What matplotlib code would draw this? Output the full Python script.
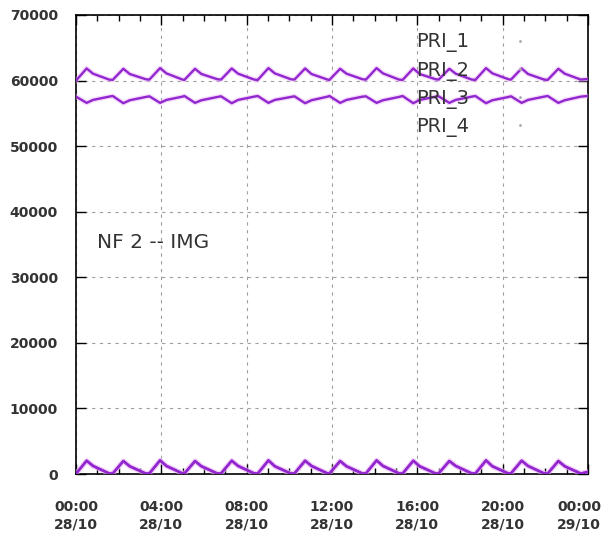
import matplotlib
matplotlib.use('Agg')
import matplotlib.pyplot as plt
from matplotlib.lines import Line2D
from matplotlib.ticker import MultipleLocator
import matplotlib.transforms as mtransforms

# hours since 00:00 28/10 (vertices)
hours = [0.00, 0.50, 0.80, 1.55,
         1.72, 2.22, 2.52, 3.27,
         3.44, 3.94, 4.24, 4.99,
         5.08, 5.58, 5.88, 6.63,
         6.80, 7.30, 7.60, 8.35,
         8.52, 9.02, 9.32, 10.07,
         10.24, 10.74, 11.04, 11.79,
         11.88, 12.38, 12.68, 13.43,
         13.59, 14.09, 14.39, 15.14,
         15.31, 15.81, 16.11, 16.86,
         17.00, 17.50, 17.80, 18.55,
         18.72, 19.22, 19.52, 20.27,
         20.39, 20.89, 21.19, 21.94,
         22.11, 22.61, 22.91, 23.66,
         24.00]

pri_1 = [60000, 61850, 61050, 60150,
         60100, 61800, 61000, 60200,
         60150, 61900, 61100, 60150,
         60100, 61800, 61000, 60200,
         60150, 61850, 61050, 60150,
         60100, 61900, 61100, 60200,
         60150, 61850, 61000, 60150,
         60100, 61800, 61050, 60200,
         60150, 61900, 61100, 60150,
         60100, 61850, 61000, 60200,
         60150, 61800, 61050, 60150,
         60100, 61900, 61100, 60200,
         60150, 61850, 61000, 60150,
         60100, 61800, 61050, 60150,
         60250]

pri_2 = [57550, 56600, 57050, 57550,
         57650, 56550, 57000, 57500,
         57600, 56600, 57050, 57550,
         57650, 56600, 57000, 57500,
         57600, 56550, 57050, 57550,
         57650, 56600, 57050, 57500,
         57600, 56550, 57000, 57550,
         57650, 56600, 57050, 57550,
         57600, 56600, 57000, 57500,
         57650, 56550, 57050, 57550,
         57600, 56600, 57050, 57550,
         57650, 56550, 57000, 57500,
         57600, 56600, 57050, 57550,
         57650, 56600, 57000, 57550,
         57650]

pri_3 = [50, 2050, 1250, 100,
         80, 2000, 1200, 80,
         100, 2100, 1250, 100,
         80, 2000, 1200, 80,
         100, 2050, 1250, 100,
         80, 2100, 1200, 80,
         100, 2050, 1250, 100,
         80, 2000, 1200, 80,
         100, 2100, 1250, 100,
         80, 2050, 1200, 80,
         100, 2000, 1250, 100,
         80, 2100, 1200, 80,
         100, 2050, 1250, 100,
         80, 2000, 1200, 80,
         350]

pri_4 = [40, 2000, 1200, 80,
         60, 1950, 1150, 60,
         80, 2050, 1200, 80,
         60, 1950, 1150, 60,
         80, 2000, 1200, 80,
         60, 2050, 1150, 60,
         80, 2000, 1200, 80,
         60, 1950, 1150, 60,
         80, 2050, 1200, 80,
         60, 2000, 1150, 60,
         80, 1950, 1200, 80,
         60, 2050, 1150, 60,
         80, 2000, 1200, 80,
         60, 1950, 1150, 60,
         300]

series_names = ['PRI_1', 'PRI_2', 'PRI_3', 'PRI_4']
x_ticks = [0, 4, 8, 12, 16, 20, 24]
x_labels = ['00:00\n28/10', '04:00\n28/10', '08:00\n28/10', '12:00\n28/10',
            '16:00\n28/10', '20:00\n28/10', '00:00\n29/10']
y_ticks = [0, 10000, 20000, 30000, 40000, 50000, 60000, 70000]

fig = plt.figure(figsize=(6.05, 5.36), dpi=100)
ax = fig.add_axes([76/605, 1 - 474/536, 512/605, 459/536])

line_col = '#9226cf'
for vals in [pri_1, pri_2, pri_3, pri_4]:
    ax.plot(hours, vals, color='#eab0f5', lw=3.6, alpha=0.45, zorder=3)
    ax.plot(hours, vals, color=line_col, lw=1.7, zorder=4)

ax.set_xlim(0, 24)
ax.set_ylim(0, 70000)
ax.set_xticks(x_ticks)
ax.set_xticklabels(x_labels, linespacing=1.3)
ax.xaxis.set_minor_locator(MultipleLocator(1))
ax.set_yticks(y_ticks)
ax.set_yticklabels([str(v) for v in y_ticks])

ax.tick_params(which='both', direction='in', top=True, right=True, colors='black')
ax.tick_params(which='major', length=7, width=1)
ax.tick_params(which='minor', length=4, width=1)
ax.tick_params(axis='x', which='major', pad=19, labelsize=10, labelcolor='#333333')
ax.tick_params(axis='y', which='major', pad=13, labelsize=10, labelcolor='#333333')
for lab in ax.get_xticklabels() + ax.get_yticklabels():
    lab.set_fontweight('bold')

# last label sits a bit left so it stays inside the picture
last = ax.get_xticklabels()[-1]
last.set_transform(last.get_transform() + mtransforms.ScaledTranslation(-9/100, 0, fig.dpi_scale_trans))

ax.grid(True, which='major', color='#a0a0a0', ls=(0, (3, 4)), lw=0.8)
for sp in ax.spines.values():
    sp.set_linewidth(1.2)

ax.text(0.98, 35300, 'NF 2 -- IMG', fontsize=14.5, color='#333333', va='center', ha='left')

handles = [Line2D([], [], ls='none', marker='.', ms=2, color='#aaaaaa') for _ in series_names]
leg = ax.legend(handles, series_names, loc='upper left', bbox_to_anchor=(0.63, 1.0),
                frameon=False, markerfirst=False, handlelength=1.2, handletextpad=2.0,
                labelspacing=0.42, fontsize=14)
for t in leg.get_texts():
    t.set_color('#333333')

fig.savefig('out.png', dpi=100)
